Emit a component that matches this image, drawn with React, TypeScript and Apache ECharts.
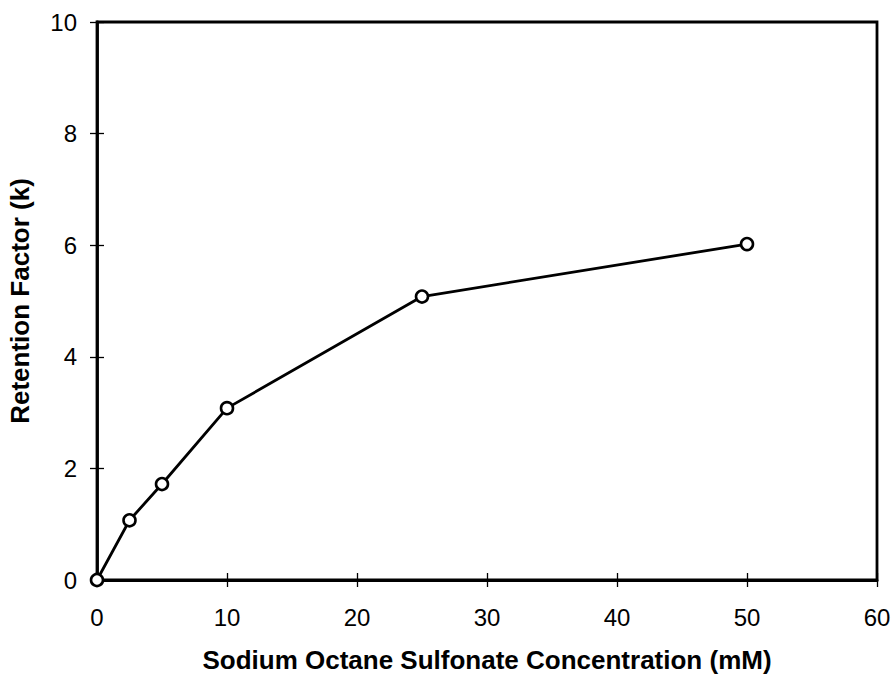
import React, { useEffect, useRef } from "react";
import * as echarts from "echarts";

const concentration = [0, 2.5, 5, 10, 25, 50];
const retention = [0, 1.07, 1.72, 3.08, 5.08, 6.02];
const xTitle = "Sodium Octane Sulfonate Concentration (mM)";
const yTitle = "Retention Factor (k)";

export default function App() {
  const ref = useRef<HTMLDivElement>(null);
  useEffect(() => {
    const chart = echarts.init(ref.current!, null, { renderer: "svg" });
    const font = "'Liberation Sans', Arial, sans-serif";
    const axisLine = { show: true, onZero: false, lineStyle: { color: "#000", width: 2.8 } };
    const tickStyle = { color: "#000", width: 1.3 };
    chart.setOption({
      animation: false,
      backgroundColor: "#fff",
      grid: {
        left: 97, top: 22, right: 15, bottom: 94,
        containLabel: false, outerBoundsMode: "none",
        show: true, borderColor: "#000", borderWidth: 2.8, backgroundColor: "transparent",
      },
      xAxis: [
        {
          type: "value", min: 0, max: 60, interval: 10,
          axisLine,
          axisTick: { show: true, length: 7, lineStyle: tickStyle },
          axisLabel: { color: "#000", fontSize: 24, fontFamily: font, margin: 25 },
          splitLine: { show: false },
          name: xTitle, nameLocation: "middle", nameGap: 67,
          nameTextStyle: { color: "#000", fontSize: 26, fontWeight: "bold", fontFamily: font },
        },
        {
          type: "value", min: 0, max: 60, interval: 10, position: "bottom", offset: 0,
          axisLine: { show: false },
          axisTick: { show: true, inside: true, length: 7, lineStyle: tickStyle },
          axisLabel: { show: false }, splitLine: { show: false },
        },
      ],
      yAxis: [
        {
          type: "value", min: 0, max: 10, interval: 2,
          axisLine,
          axisTick: { show: true, length: 7, lineStyle: tickStyle },
          axisLabel: { color: "#000", fontSize: 24, fontFamily: font, margin: 20 },
          splitLine: { show: false },
          name: yTitle, nameLocation: "middle", nameGap: 64,
          nameTextStyle: { color: "#000", fontSize: 26, fontWeight: "bold", fontFamily: font },
        },
        {
          type: "value", min: 0, max: 10, interval: 2, position: "left", offset: 0,
          axisLine: { show: false },
          axisTick: { show: true, inside: true, length: 7, lineStyle: tickStyle },
          axisLabel: { show: false }, splitLine: { show: false },
        },
      ],
      series: [
        {
          type: "line",
          data: concentration.map((x, i) => [x, retention[i]]),
          xAxisIndex: 0, yAxisIndex: 0,
          lineStyle: { color: "#000", width: 2.8 },
          symbol: "circle", symbolSize: 12,
          itemStyle: { color: "#fff", borderColor: "#000", borderWidth: 2.6 },
          z: 5,
        },
      ],
    });
    return () => chart.dispose();
  }, []);
  return <div ref={ref} style={{ position: "fixed", left: 0, top: 0, width: 892, height: 674 }} />;
}
